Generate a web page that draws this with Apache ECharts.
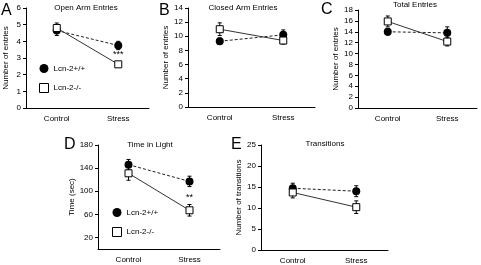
<!DOCTYPE html>
<html>
<head>
<meta charset="utf-8">
<script src="https://cdn.jsdelivr.net/npm/echarts@6/dist/echarts.min.js"></script>
<style>
  html, body { margin: 0; padding: 0; background: #fff; }
  #chart { width: 481px; height: 265px; }
</style>
</head>
<body>
<div id="chart"></div>
<script>
// categories shared by every panel
var groups = ['Control', 'Stress'];

// A - open arm entries
var openWt = [4.65, 3.75];
var openWtErr = [0.3, 0.25];
var openKo = [4.8, 2.62];
var openKoErr = [0.3, 0.15];

// B - closed arm entries
var closedWt = [9.3, 10.2];
var closedWtErr = [0.45, 0.7];
var closedKo = [11.0, 9.4];
var closedKoErr = [0.9, 0.5];

// C - total entries
var totalWt = [14.0, 13.8];
var totalWtErr = [0.6, 1.1];
var totalKo = [15.9, 12.2];
var totalKoErr = [1.0, 0.8];

// D - time in light
var lightWt = [146, 117];
var lightWtErr = [9, 9];
var lightKo = [131, 67];
var lightKoErr = [12, 10];
var lightTicks = [20, 60, 100, 140, 180];

// E - transitions
var transWt = [14.7, 14.0];
var transWtErr = [1.2, 1.3];
var transKo = [13.7, 10.2];
var transKoErr = [1.3, 1.5];

var FONT = '"Liberation Sans", Arial, sans-serif';
var WT = 'Lcn-2+/+';
var KO = 'Lcn-2-/-';

var panels = [
	{ letter: 'A', title: 'Open Arm Entries', yName: 'Number of entries', wt: openWt, wtErr: openWtErr, ko: openKo, koErr: openKoErr,
	  grid: { left: 26, top: 8, width: 123, height: 100 }, max: 6, interval: 1, nameGap: 16, star: '***', starDist: 1,
	  titleX: 86, titleY: 4, letterX: 1, letterY: 3 },
	{ letter: 'B', title: 'Closed Arm Entries', yName: 'Number of entries', wt: closedWt, wtErr: closedWtErr, ko: closedKo, koErr: closedKoErr,
	  grid: { left: 188, top: 8, width: 127, height: 99 }, max: 14, interval: 2, nameGap: 18,
	  titleX: 243, titleY: 4, letterX: 159, letterY: 3 },
	{ letter: 'C', title: 'Total Entries', yName: 'Number of entries', wt: totalWt, wtErr: totalWtErr, ko: totalKo, koErr: totalKoErr,
	  grid: { left: 358, top: 10, width: 119, height: 98 }, max: 18, interval: 2, nameGap: 18,
	  titleX: 415, titleY: 1, letterX: 321, letterY: 2 },
	{ letter: 'D', title: 'Time in Light', yName: 'Time (sec)', wt: lightWt, wtErr: lightWtErr, ko: lightKo, koErr: lightKoErr,
	  grid: { left: 98, top: 145, width: 122, height: 104 }, max: 180, ticks: lightTicks, nameGap: 14, star: '**', starDist: 4,
	  titleX: 150, titleY: 141, letterX: 64, letterY: 137 },
	{ letter: 'E', title: 'Transitions', yName: 'Number of transitions', wt: transWt, wtErr: transWtErr, ko: transKo, koErr: transKoErr,
	  grid: { left: 261, top: 145, width: 127, height: 105 }, max: 25, interval: 5, nameGap: 15,
	  titleX: 325, titleY: 140, letterX: 231, letterY: 137 }
];

function renderErr(params, api) {
	var c = api.value(0);
	var hi = api.coord([c, api.value(2)]);
	var lo = api.coord([c, api.value(1)]);
	var x = hi[0];
	var w = 2;
	var st = { stroke: '#000', lineWidth: 1 };
	return {
		type: 'group',
		children: [
			{ type: 'line', shape: { x1: x, y1: hi[1], x2: x, y2: lo[1] }, style: st },
			{ type: 'line', shape: { x1: x - w, y1: hi[1], x2: x + w, y2: hi[1] }, style: st },
			{ type: 'line', shape: { x1: x - w, y1: lo[1], x2: x + w, y2: lo[1] }, style: st }
		]
	};
}

function errData(vals, errs) {
	return vals.map(function (v, i) { return [i, v - errs[i], v + errs[i]]; });
}

var grids = [], xAxes = [], yAxes = [], series = [], titles = [];

panels.forEach(function (p, i) {
	grids.push(p.grid);
	xAxes.push({
		gridIndex: i, type: 'category', data: groups, boundaryGap: true,
		axisLine: { lineStyle: { color: '#000', width: 1 } },
		axisTick: { show: false },
		axisLabel: { color: '#000', fontSize: 8, fontFamily: FONT, margin: 7 }
	});
	var y = {
		gridIndex: i, type: 'value', min: 0, max: p.max,
		name: p.yName, nameLocation: 'middle', nameRotate: 90, nameGap: p.nameGap,
		nameTextStyle: { color: '#000', fontSize: 8, fontFamily: FONT },
		splitLine: { show: false },
		axisLine: { show: true, lineStyle: { color: '#000', width: 1 } },
		axisTick: { show: true, length: 3, lineStyle: { color: '#000' } },
		axisLabel: { color: '#000', fontSize: 8, fontFamily: FONT, margin: 5 }
	};
	if (p.ticks) {
		y.axisTick.customValues = p.ticks;
		y.axisLabel.customValues = p.ticks;
	} else {
		y.interval = p.interval;
	}
	yAxes.push(y);

	titles.push({ text: p.title, left: p.titleX, top: p.titleY, textAlign: 'center', padding: 0,
		textStyle: { fontSize: 8, fontWeight: 'normal', color: '#000', fontFamily: FONT } });
	titles.push({ text: p.letter, left: p.letterX, top: p.letterY, padding: 0,
		textStyle: { fontSize: 16, fontWeight: 'normal', color: '#000', fontFamily: FONT } });

	series.push({
		type: 'custom', xAxisIndex: i, yAxisIndex: i, z: 1, silent: true,
		renderItem: renderErr, data: errData(p.wt, p.wtErr)
	});
	series.push({
		type: 'custom', xAxisIndex: i, yAxisIndex: i, z: 1, silent: true,
		renderItem: renderErr, data: errData(p.ko, p.koErr)
	});
	series.push({
		name: WT, type: 'line', xAxisIndex: i, yAxisIndex: i, z: 3,
		symbol: 'circle', symbolSize: 8, showAllSymbol: true,
		itemStyle: { color: '#000' },
		lineStyle: { color: '#222', width: 1, type: [3, 2] },
		data: p.wt
	});
	var koData = p.ko.slice();
	if (p.star) {
		koData[1] = { value: p.ko[1], label: { show: true, position: 'top', distance: p.starDist, formatter: p.star,
			color: '#000', fontSize: 9, fontFamily: FONT } };
	}
	series.push({
		name: KO, type: 'line', xAxisIndex: i, yAxisIndex: i, z: 4,
		symbol: 'rect', symbolSize: 7, showAllSymbol: true,
		itemStyle: { color: '#fff', borderColor: '#000', borderWidth: 1 },
		lineStyle: { color: '#333', width: 1 },
		data: koData
	});
});

function makeLegend(left, top) {
	return {
		orient: 'vertical', left: left, top: top, padding: 0,
		itemWidth: 9, itemHeight: 9, itemGap: 10, selectedMode: false,
		textStyle: { color: '#000', fontSize: 8, fontFamily: FONT },
		data: [
			{ name: WT, icon: 'circle', itemStyle: { color: '#000', borderWidth: 0 } },
			{ name: KO, icon: 'rect', itemStyle: { color: '#fff', borderColor: '#000', borderWidth: 1 } }
		]
	};
}

var chart = echarts.init(document.getElementById('chart'), null, { renderer: 'canvas' });
chart.setOption({
	animation: false,
	backgroundColor: '#fff',
	title: titles,
	legend: [makeLegend(39, 64), makeLegend(112, 208)],
	grid: grids,
	xAxis: xAxes,
	yAxis: yAxes,
	series: series
});
</script>
</body>
</html>
